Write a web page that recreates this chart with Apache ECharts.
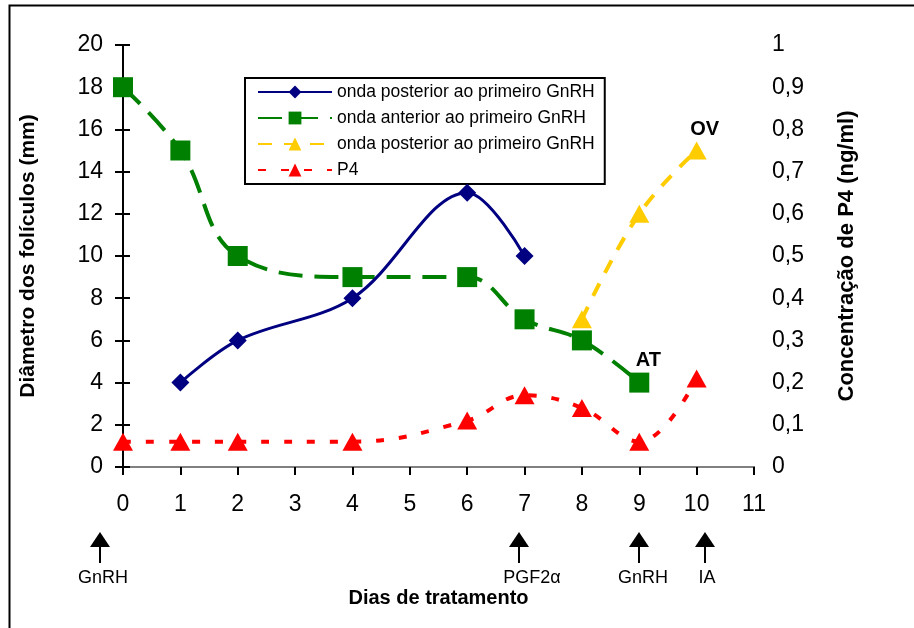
<!DOCTYPE html>
<html>
<head>
<meta charset="utf-8">
<script src="https://cdn.jsdelivr.net/npm/echarts@6/dist/echarts.min.js"></script>
<style>
  html, body { margin: 0; padding: 0; background: #fff; }
  #chart { width: 914px; height: 628px; }
</style>
</head>
<body>
<div id="chart"></div>
<script>
// Follicle diameter (left axis, mm) and P4 concentration (right axis, ng/ml) by treatment day
const posteriorDays = [1, 2, 4, 6, 7];
const posteriorDiam = [4, 6, 8, 13, 10];
const anteriorDays = [0, 1, 2, 4, 6, 7, 8, 9];
const anteriorDiam = [18, 15, 10, 9, 9, 7, 6, 4];
const posterior2Days = [8, 9, 10];
const posterior2Diam = [7, 12, 15];
const p4Days = [0, 1, 2, 4, 6, 7, 8, 9, 10];
const p4Conc = [0.06, 0.06, 0.06, 0.06, 0.11, 0.17, 0.14, 0.06, 0.21];

const legendLabels = {
  pos1: 'onda posterior ao primeiro GnRH',
  ant: 'onda anterior ao primeiro GnRH',
  pos2: 'onda posterior ao primeiro GnRH',
  p4: 'P4'
};

// Treatment events marked under the day axis
const eventDays = [-0.4, 6.9, 9.0, 10.15];
const eventLabels = ['GnRH', 'PGF2α', 'GnRH', 'IA'];
const eventLabelShift = [3, 13, 4, 2];

const FONT = '"Liberation Sans", Arial, sans-serif';

function pairs(xs, ys) { return xs.map((x, i) => [x, ys[i]]); }

const anteriorData = pairs(anteriorDays, anteriorDiam);
anteriorData[anteriorData.length - 1] = {
  value: anteriorData[anteriorData.length - 1],
  label: { show: true, formatter: 'AT', position: 'top', offset: [9, 3],
           fontFamily: FONT, fontWeight: 'bold', fontSize: 20, color: '#000' }
};
const posterior2Data = pairs(posterior2Days, posterior2Diam);
posterior2Data[posterior2Data.length - 1] = {
  value: posterior2Data[posterior2Data.length - 1],
  label: { show: true, formatter: 'OV', position: 'top', offset: [8, 3],
           fontFamily: FONT, fontWeight: 'bold', fontSize: 20, color: '#000' }
};

const chart = echarts.init(document.getElementById('chart'), null, { renderer: 'canvas' });

const option = {
  animation: false,
  backgroundColor: '#fff',
  textStyle: { fontFamily: FONT },
  grid: { left: 123, right: 160, top: 45, bottom: 161, containLabel: false },
  legend: {
    orient: 'vertical',
    left: 245, top: 78,
    padding: [4, 10, 4, 12],
    itemWidth: 74, itemHeight: 16, itemGap: 6,
    borderColor: '#000', borderWidth: 2,
    backgroundColor: '#fff',
    selectedMode: false,
    data: ['pos1', 'ant', 'pos2', 'p4'],
    formatter: n => legendLabels[n],
    textStyle: { fontFamily: FONT, fontSize: 17.5, lineHeight: 20, color: '#000' }
  },
  xAxis: [{
    type: 'value', min: 0, max: 11, interval: 1, position: 'bottom',
    axisLine: { lineStyle: { color: '#000', width: 2 } },
    axisTick: { show: true, length: 8, lineStyle: { color: '#000', width: 2 } },
    axisLabel: { margin: 26, fontFamily: FONT, fontSize: 23, color: '#000' },
    splitLine: { show: false },
    name: 'Dias de tratamento', nameLocation: 'middle', nameGap: 121,
    nameTextStyle: { fontFamily: FONT, fontWeight: 'bold', fontSize: 20, color: '#000' }
  }, {
    type: 'value', min: 0, max: 11, position: 'top',
    axisLine: { show: true, lineStyle: { color: '#808080', width: 2 } },
    axisTick: { show: false }, axisLabel: { show: false }, splitLine: { show: false }
  }],
  yAxis: [{
    type: 'value', min: 0, max: 20, interval: 2, position: 'left',
    axisLine: { show: true, lineStyle: { color: '#000', width: 2 } },
    axisTick: { show: true, length: 8, lineStyle: { color: '#000', width: 2 } },
    axisLabel: { margin: 20, fontFamily: FONT, fontSize: 23, color: '#000' },
    splitLine: { show: false },
    name: 'Diâmetro dos folículos (mm)', nameLocation: 'middle', nameGap: 84, nameRotate: 90,
    nameTextStyle: { fontFamily: FONT, fontWeight: 'bold', fontSize: 21, color: '#000' }
  }, {
    type: 'value', min: 0, max: 1, interval: 0.1, position: 'right',
    axisLine: { show: true, lineStyle: { color: '#000', width: 2 } },
    axisTick: { show: true, length: 7, lineStyle: { color: '#000', width: 2 } },
    axisLabel: { margin: 18, fontFamily: FONT, fontSize: 23, color: '#000',
                 formatter: v => String(Math.round(v * 10) / 10).replace('.', ',') },
    splitLine: { show: false },
    name: 'Concentração de P4 (ng/ml)', nameLocation: 'middle', nameGap: 82, nameRotate: 90,
    nameTextStyle: { fontFamily: FONT, fontWeight: 'bold', fontSize: 22, color: '#000' }
  }],
  series: [{
    name: 'pos1', type: 'line', yAxisIndex: 0, smooth: 0.35,
    data: pairs(posteriorDays, posteriorDiam),
    symbol: 'diamond', symbolSize: 18,
    lineStyle: { color: '#000080', width: 3 },
    itemStyle: { color: '#000080' }, z: 4
  }, {
    name: 'ant', type: 'line', yAxisIndex: 0, smooth: 0.4,
    data: anteriorData,
    symbol: 'rect', symbolSize: 20,
    lineStyle: { color: '#008000', width: 4, type: [24, 12] },
    itemStyle: { color: '#008000' }, z: 3
  }, {
    name: 'pos2', type: 'line', yAxisIndex: 0, smooth: 0.4,
    data: posterior2Data,
    symbol: 'triangle', symbolSize: [20, 18],
    lineStyle: { color: '#FFCC00', width: 4, type: [14, 12] },
    itemStyle: { color: '#FFCC00' }, z: 3
  }, {
    name: 'p4', type: 'line', yAxisIndex: 1, smooth: 0.4,
    data: pairs(p4Days, p4Conc),
    symbol: 'triangle', symbolSize: [20, 18],
    lineStyle: { color: '#FF0000', width: 4, type: [8, 15] },
    itemStyle: { color: '#FF0000' }, z: 3
  }]
};

chart.setOption(option);

// Outer frame plus event arrows placed along the day axis
function drawExtras() {
  const elements = [{
    type: 'rect', silent: true,
    shape: { x: 9.5, y: 5.5, width: 1000, height: 1000 },
    style: { fill: null, stroke: '#000', lineWidth: 2 }, z: 0
  }];
  eventDays.forEach((d, i) => {
    const px = Math.round(chart.convertToPixel({ xAxisIndex: 0 }, d));
    elements.push({
      type: 'polygon', silent: true,
      shape: { points: [[px, 532], [px - 10, 547], [px + 10, 547]] },
      style: { fill: '#000' }
    });
    elements.push({
      type: 'line', silent: true,
      shape: { x1: px, y1: 546, x2: px, y2: 563 },
      style: { stroke: '#000', lineWidth: 2 }
    });
    elements.push({
      type: 'text', silent: true,
      x: px + eventLabelShift[i], y: 578,
      style: { text: eventLabels[i], fontFamily: FONT, fontSize: 18, fill: '#000',
               align: 'center', verticalAlign: 'middle' }
    });
  });
  chart.setOption({ graphic: elements });
}
drawExtras();
</script>
</body>
</html>
